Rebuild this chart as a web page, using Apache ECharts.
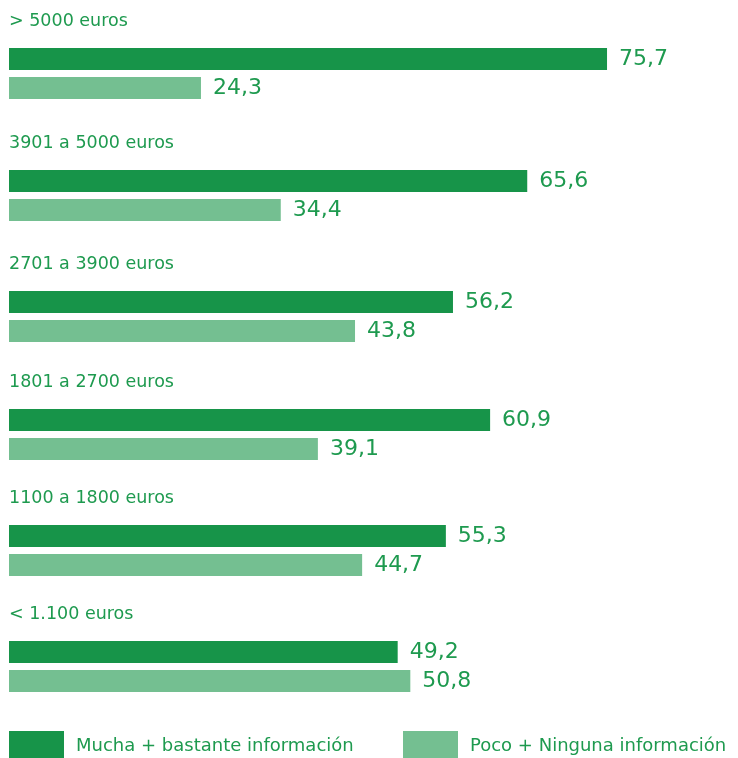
<!DOCTYPE html>
<html>
<head>
<meta charset="utf-8">
<script src="https://cdn.jsdelivr.net/npm/echarts@6/dist/echarts.min.js"></script>
<style>
html,body{margin:0;padding:0;background:#fff;}
#chart{width:738px;height:758px;}
</style>
</head>
<body>
<div id="chart"></div>
<script>
const categories = ['> 5000 euros', '3901 a 5000 euros', '2701 a 3900 euros', '1801 a 2700 euros', '1100 a 1800 euros', '< 1.100 euros'];
const mucha = [75.7, 65.6, 56.2, 60.9, 55.3, 49.2];
const poco = [24.3, 34.4, 43.8, 39.1, 44.7, 50.8];
const seriesNames = ['Mucha + bastante información', 'Poco + Ninguna información'];

const DARK = '#179449';
const LIGHT = '#74bf91';
const TEXT = '#1e9a4f';
const FONT = 'DejaVu Sans';
const gridTops = [48, 170, 291, 409, 525, 641];

const grids = [], xAxes = [], yAxes = [], series = [];
const fmt = p => String(p.value).replace('.', ',');
categories.forEach((cat, i) => {
  grids.push({ left: 9, width: 711, top: gridTops[i], height: 51 });
  xAxes.push({ type: 'value', gridIndex: i, min: 0, max: 90, show: false });
  yAxes.push({
    type: 'category', gridIndex: i, data: [cat],
    axisLine: { show: false }, axisTick: { show: false }, axisLabel: { show: false },
    name: cat, nameLocation: 'end', nameGap: 27,
    nameTextStyle: { align: 'left', verticalAlign: 'middle', fontFamily: FONT, fontSize: 17.5, color: TEXT }
  });
  [mucha, poco].forEach((arr, k) => {
    series.push({
      type: 'bar', name: seriesNames[k], xAxisIndex: i, yAxisIndex: i,
      data: [arr[i]], barWidth: 22, barGap: '32%',
      itemStyle: { color: k === 0 ? DARK : LIGHT },
      label: { show: true, position: 'right', distance: 12, formatter: fmt,
        fontFamily: FONT, fontSize: 22, color: TEXT },
      silent: true, animation: false
    });
  });
});

const legendBase = {
  top: 731, padding: 0, itemWidth: 55, itemHeight: 30, icon: 'rect',
  textStyle: { fontFamily: FONT, fontSize: 18, color: TEXT, padding: [0, 0, 0, 7] },
  selectedMode: false
};

const chart = echarts.init(document.getElementById('chart'));
chart.setOption({
  animation: false,
  grid: grids, xAxis: xAxes, yAxis: yAxes, series: series,
  legend: [
    Object.assign({}, legendBase, { left: 9, data: [seriesNames[0]] }),
    Object.assign({}, legendBase, { left: 403, data: [seriesNames[1]] })
  ]
});
</script>
</body>
</html>
